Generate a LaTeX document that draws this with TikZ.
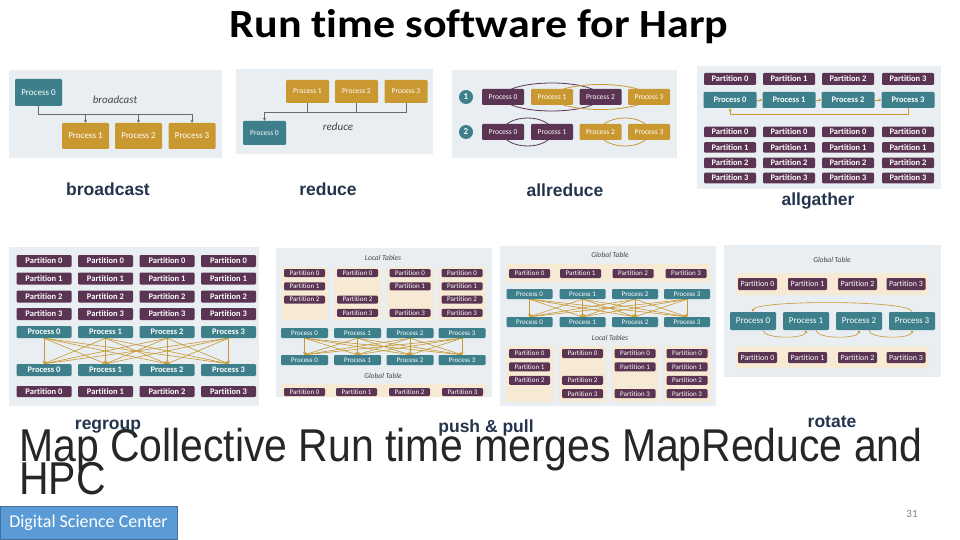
\documentclass[tikz,border=0pt]{standalone}
\usepackage{fontspec}
\setmainfont[Ligatures=NoCommon]{Carlito}
\newfontfamily\titlefont[Ligatures=NoCommon, FakeStretch=1.1]{Carlito}
\newfontfamily\arialfont[FakeStretch=0.89]{Liberation Sans}
\newfontfamily\capfont{Liberation Sans}
\protected\def\tightlead{\lineskiplimit=-100pt\relax\lineskip=0pt\relax}
\usetikzlibrary{arrows.meta,calc}
\definecolor{panelbg}{RGB}{232,238,241}
\definecolor{hteal}{RGB}{62,127,140}
\definecolor{hgold}{RGB}{201,152,48}
\definecolor{hplum}{RGB}{90,52,82}
\definecolor{htan}{RGB}{246,234,212}
\definecolor{capnavy}{RGB}{35,52,76}
\definecolor{bodygray}{RGB}{38,38,38}
\definecolor{linegray}{RGB}{105,105,105}
\definecolor{tagtext}{RGB}{70,70,70}
\definecolor{dscblue}{RGB}{91,155,213}
\definecolor{dscedge}{RGB}{65,113,156}
\pgfdeclarelayer{back}
\pgfdeclarelayer{mid}
\pgfsetlayers{back,mid,main}
\tikzset{
  fsz/.style={font=\fontsize{#1}{#1}\selectfont},
  bfsz/.style={font=\bfseries\fontsize{#1}{#1}\selectfont},
  wh/.style 2 args={minimum width=#1pt, minimum height=#2pt},
  tealbox/.style={fill=hteal, text=white, rounded corners=1.2pt,
                  inner sep=0pt, fsz=8},
  goldbox/.style={tealbox, fill=hgold},
  plumbox/.style={tealbox, fill=hplum},
  tanbox/.style={fill=htan, rounded corners=1pt, inner sep=0pt},
  panel/.style={fill=panelbg},
  bus/.style={draw=linegray, line width=0.7pt},
  busarrow/.style={bus, -{Stealth[length=3pt,width=3pt]}},
  goldarrow/.style={draw=hgold, line width=0.6pt, -{Stealth[length=3pt,width=3pt]}},
  ring/.style={line width=0.8pt},
  flowtag/.style={font=\itshape\fontsize{11}{11}\selectfont, text=tagtext},
  tabletag/.style={font=\itshape\fontsize{7.5}{7.5}\selectfont, text=tagtext},
  caption/.style={font=\capfont\bfseries\fontsize{17.5}{17.5}\selectfont, text=capnavy}
}

\begin{document}
\begin{tikzpicture}[x=1pt, y=-1pt]
  \useasboundingbox (0,0) rectangle (960,540);

  \begin{pgfonlayer}{back}
    \fill[panel] (9,70) rectangle (222,158);
    \fill[panel] (236,69) rectangle (433,154);
    \fill[panel] (452,70) rectangle (677,158);
    \fill[panel] (697,66) rectangle (941,189);
    \fill[panel] (9,247) rectangle (259,406);
    \fill[panel] (276,248) rectangle (492,397);
    \fill[panel] (500,246) rectangle (716,406);
    \fill[panel] (724,245) rectangle (941,377);
  \end{pgfonlayer}

  \node[font=\titlefont\bfseries\fontsize{40}{40}\selectfont] (title) at (479,27) {Run time software for Harp};

  % broadcast
  \node[tealbox, wh={47}{27}, fsz=9] (b0) at (38.5,92.5) {Process 0};
  \foreach \i/\x in {1/85.5,2/138.5,3/192}
    \node[goldbox, wh={47}{26}, fsz=9] (b\i) at (\x,136) {Process \i};
  \node[flowtag] (bname) at (115,100) {broadcast};
  \coordinate (bbus) at (192,114);

  % reduce
  \foreach \i/\x in {1/307.5,2/356.5,3/406}
    \node[goldbox, wh={43}{23}, fsz=7.5] (r\i) at (\x,91.5) {Process \i};
  \node[tealbox, wh={43}{24}, fsz=7.5] (r0) at (264.5,133) {Process 0};
  \node[flowtag] (rname) at (338,127) {reduce};
  \coordinate (rbus) at (406,112);

  % allreduce
  \node[circle, fill=hteal, text=white, minimum size=14pt, inner sep=0pt,
        font=\bfseries\fontsize{9}{9}\selectfont] (step1) at (466,97) {1};
  \node[circle, fill=hteal, text=white, minimum size=14pt, inner sep=0pt,
        font=\bfseries\fontsize{9}{9}\selectfont] (step2) at (466,132) {2};
  \foreach \i/\x/\s/\t in {0/503/plumbox/plumbox,1/552/goldbox/plumbox,
                           2/600.5/plumbox/goldbox,3/649/goldbox/goldbox} {
    \node[\s, wh={42}{16}, fsz=7.5] (a\i) at (\x,97) {Process \i};
    \node[\t, wh={42}{16}, fsz=7.5] (c\i) at (\x,132) {Process \i};
  }

  % allgather
  \foreach \c/\x in {0/730,1/789,2/848,3/908} {
    \node[plumbox, wh={52}{12}, bfsz=8.5] (ag\c) at (\x,79) {Partition \c};
    \node[tealbox, wh={53}{16}, bfsz=8.5] (agp\c) at (\x,100) {Process \c};
    \foreach \r/\y in {0/132,1/147.5,2/163,3/178}
      \node[plumbox, wh={52}{10.5}, bfsz=8.5] (agt\r\c) at (\x,\y) {Partition \r};
  }
  \coordinate (gbus) at (908,114);

  % regroup
  \foreach \c/\x in {0/44,1/105.5,2/167,3/228.5} {
    \foreach \r/\y in {0/261,1/278.5,2/296.5,3/314}
      \node[plumbox, wh={55}{12}, bfsz=8.5] (rg\r\c) at (\x,\y) {Partition \r};
    \node[tealbox, wh={55}{12}, bfsz=8.5] (rgp\c) at (\x,332) {Process \c};
    \node[tealbox, wh={55}{12}, bfsz=8.5] (rgq\c) at (\x,370) {Process \c};
    \node[plumbox, wh={55}{11}, bfsz=8.5] (rgo\c) at (\x,391.5) {Partition \c};
  }

  % push
  \node[tabletag] (pushlocal) at (383,258) {Local Tables};
  \foreach \c/\x/\rows in {0/304.5/{0,1,2},1/357.5/{0,2,3},2/410/{0,1,3},3/462/{0,1,2,3}} {
    \node[tanbox, wh={47}{53}] (pl\c) at (\x,293.5) {};
    \foreach \r in \rows
      \node[plumbox, wh={41}{8}, fsz=7] (plp\r\c) at (\x,{273+13.3*\r}) {Partition \r};
    \node[tealbox, wh={47}{10}, fsz=7] (pp\c) at (\x,333) {Process \c};
    \node[tealbox, wh={47}{10}, fsz=7] (pq\c) at (\x,360) {Process \c};
  }
  \node[tabletag] (pushglobal) at (383,376) {Global Table};
  \node[tanbox, wh={205}{13}] (pg) at (383.5,390.5) {};
  \foreach \c/\x in {0/304.5,1/356.5,2/409.5,3/462.5}
    \node[plumbox, wh={41}{8}, fsz=7] (pgp\c) at (\x,392) {Partition \c};

  % pull
  \node[tabletag] (pullglobal) at (610,255) {Global Table};
  \node[tanbox, wh={204}{18}] (ug) at (608,273) {};
  \foreach \c/\x in {0/529.5,1/580.5,2/633,3/686}
    \node[plumbox, wh={41}{9}, fsz=7] (ugp\c) at (\x,273.5) {Partition \c};
  \node[tabletag] (pulllocal) at (610,338) {Local Tables};
  \foreach \c/\x/\rows in {0/529.5/{0,1,2},1/582.5/{0,2,3},2/635/{0,1,3},3/687/{0,1,2,3}} {
    \node[tealbox, wh={46}{10}, fsz=7] (up\c) at (\x,294) {Process \c};
    \node[tealbox, wh={46}{10}, fsz=7] (uq\c) at (\x,322) {Process \c};
    \node[tanbox, wh={47}{56}] (ul\c) at (\x,374) {};
    \foreach \r in \rows
      \node[plumbox, wh={41}{9}, fsz=7] (ulp\r\c) at (\x,{353.5+13.4*\r}) {Partition \r};
  }

  % rotate
  \node[tabletag] (rotglobal) at (832,260) {Global Table};
  \node[tanbox, wh={192}{22}] (rt1) at (832,284) {};
  \node[tanbox, wh={192}{22}] (rt2) at (832,357) {};
  \foreach \c/\x/\p in {0/757.5/753,1/807.5/806,2/857.5/859,3/906/912} {
    \node[plumbox, wh={39}{12}, fsz=8] (rta\c) at (\x,284) {Partition \c};
    \node[tealbox, wh={46}{18}, fsz=9] (q\c) at (\p,321) {Process \c};
    \node[plumbox, wh={39}{11}, fsz=8] (rtb\c) at (\x,357.5) {Partition \c};
  }

  \begin{pgfonlayer}{mid}
    \draw[bus] (b0.south) |- (b3.north |- bbus);
    \foreach \i in {1,2,3}
      \draw[busarrow] (b\i.north |- bbus) -- (b\i.north);
    \draw[busarrow] (r3.south) |- (r0.north |- rbus) -- (r0.north);
    \foreach \i in {1,2}
      \draw[bus] (r\i.south) -- (r\i.south |- rbus);
    \draw[ring, hplum] ($(a0)!0.5!(a2)$) ellipse [x radius=49pt, y radius=14pt];
    \draw[ring, hgold] ($(a1)!0.5!(a3)$) ellipse [x radius=48pt, y radius=12.5pt];
    \draw[ring, hplum] ($(c0)!0.5!(c1)$) ellipse [x radius=25pt, y radius=14pt];
    \draw[ring, hgold] ($(c2)!0.5!(c3)$) ellipse [x radius=25pt, y radius=14pt];
    \foreach \i/\j in {0/1,1/2,2/3}
      \draw[goldarrow] (agp\i.east) -- (agp\j.west);
    \draw[goldarrow] (agp3.south) |- (agp0.south |- gbus) -- (agp0.south);
    \foreach \i in {0,...,3}
      \foreach \j in {0,...,3} {
        \draw[goldarrow] (rgp\i.south) -- (rgq\j.north);
        \draw[goldarrow] (pp\i.south) -- (pq\j.north);
        \draw[goldarrow] (up\i.south) -- (uq\j.north);
      }
    \draw[goldarrow] (q3.north) .. controls +(0,-12) and +(0,-12) .. (q0.north);
    \foreach \i/\j in {0/1,1/2,2/3}
      \draw[goldarrow] ($(q\i.south)+(10,0)$) .. controls +(0,9) and +(0,9) .. (q\j.south);
  \end{pgfonlayer}

  \node[caption] (capb) at (108,189) {broadcast};
  \node[caption] (capr) at (328,189) {reduce};
  \node[caption] (capa) at (565,190) {allreduce};
  \node[caption] (capg) at (818,201) {allgather};

  \node[anchor=north west, align=left, inner sep=0pt, text=bodygray,
        font=\arialfont\fontsize{46}{33}\selectfont\tightlead]
        (summary) at (19,428) {Map Collective Run time merges MapReduce and\\HPC};

  \node[caption] (capx) at (108,427) {regroup};
  \node[caption] (capp) at (486,428) {push \& pull};
  \node[caption] (capt) at (832,422) {rotate};

  \node[fill=dscblue, draw=dscedge, line width=1pt, text=white, inner sep=0pt,
        minimum width=177pt, minimum height=33pt, font=\fontsize{18}{18}\selectfont]
        (dsc) at (88.5,522.5) {Digital Science Center};
  \node[text=gray, font=\fontsize{11}{11}\selectfont] (pageno) at (912,514) {31};
\end{tikzpicture}
\end{document}
